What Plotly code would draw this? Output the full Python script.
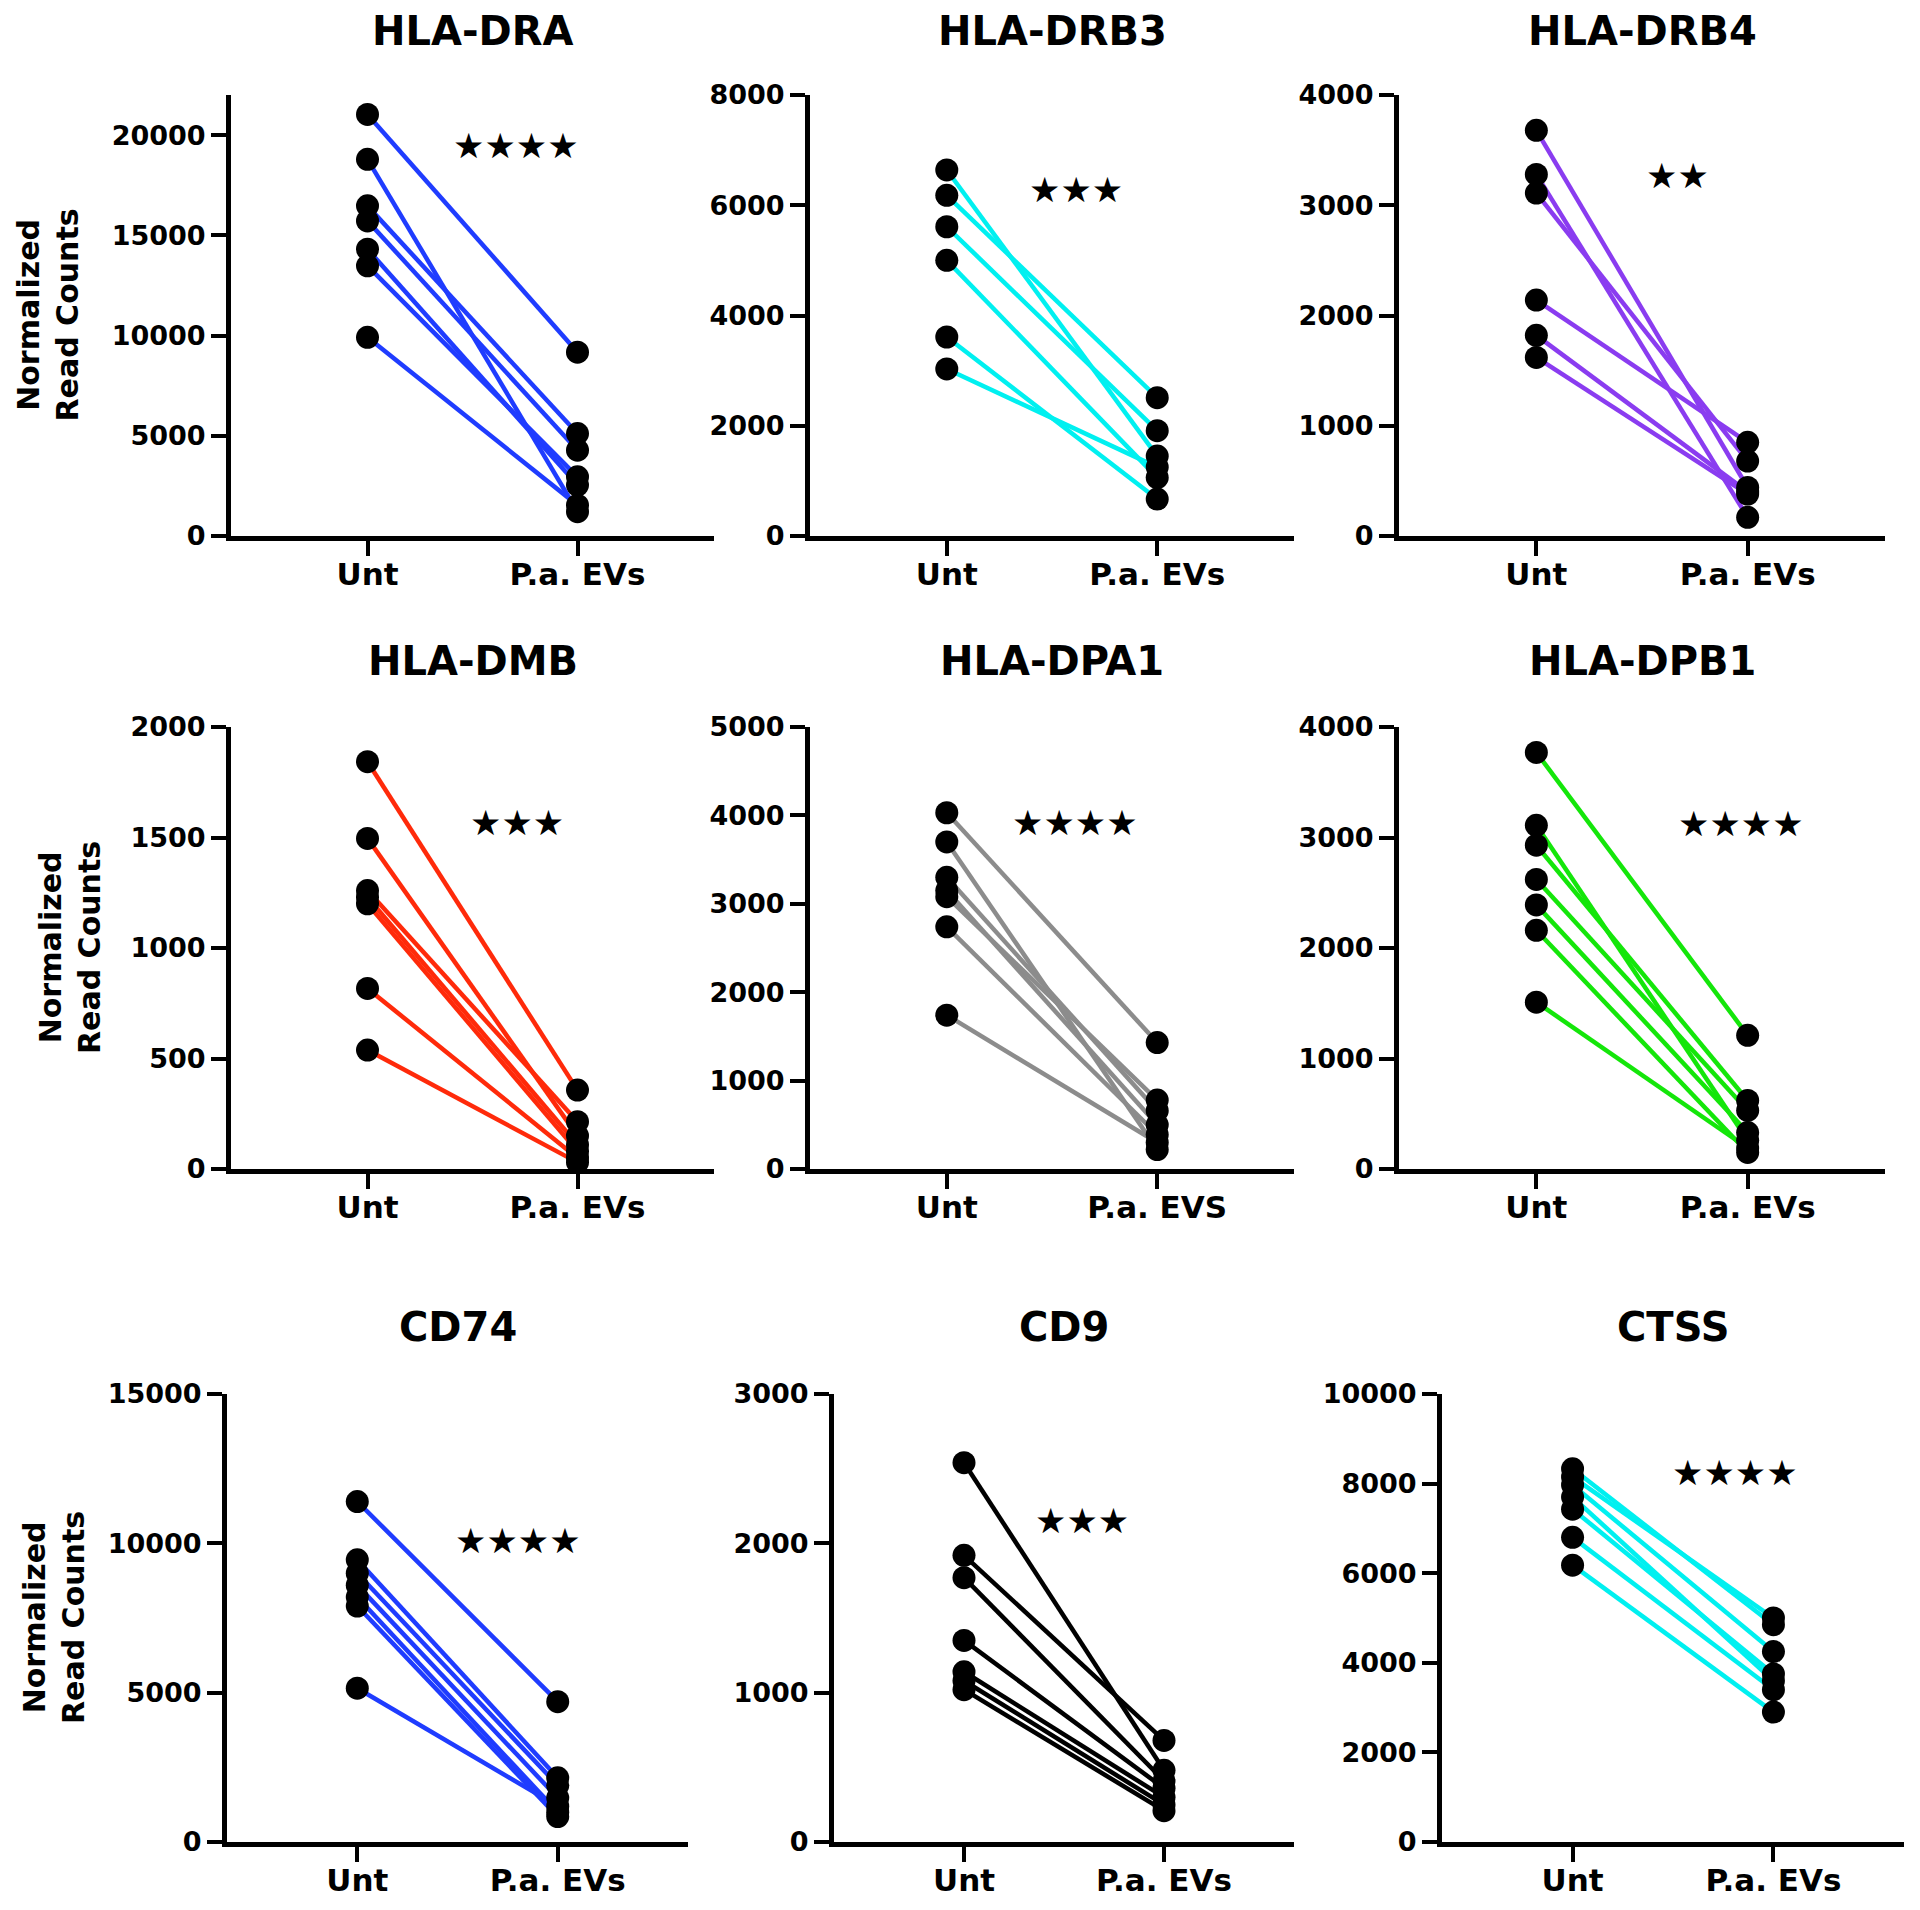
import plotly.graph_objects as go

# panels, read left to right, top to bottom
genes = ["HLA-DRA", "HLA-DRB3", "HLA-DRB4", "HLA-DMB", "HLA-DPA1", "HLA-DPB1", "CD74", "CD9", "CTSS"]
unt_label = "Unt"
evs_labels = ["P.a. EVs", "P.a. EVs", "P.a. EVs", "P.a. EVs", "P.a. EVS", "P.a. EVs", "P.a. EVs", "P.a. EVs", "P.a. EVs"]

# normalized read counts, paired donors: untreated -> P.a. EV treated
dra_unt = [21030, 18790, 16470, 15720, 14310, 13480, 9910]
dra_evs = [9170, 1210, 5110, 4280, 2540, 2950, 1540]

drb3_unt = [6640, 6180, 5610, 5000, 3610, 3030]
drb3_evs = [1450, 2510, 1910, 1060, 670, 1250]

drb4_unt = [3680, 3280, 3110, 2140, 1820, 1620]
drb4_evs = [440, 170, 680, 850, 400, 380]

dmb_unt = [1843, 1496, 1260, 1230, 1200, 817, 538]
dmb_evs = [357, 150, 214, 110, 80, 50, 30]

dpa1_unt = [4030, 3700, 3300, 3150, 3080, 2740, 1740]
dpa1_evs = [1430, 220, 660, 500, 780, 390, 300]

dpb1_unt = [3770, 3110, 2930, 2620, 2390, 2160, 1510]
dpb1_evs = [1210, 260, 620, 530, 330, 150, 190]

cd74_unt = [11400, 9450, 9000, 8600, 8200, 7900, 5150]
cd74_evs = [4700, 2150, 1900, 1480, 1000, 850, 1200]

cd9_unt = [2540, 1920, 1770, 1350, 1140, 1080, 1020]
cd9_evs = [480, 680, 410, 360, 300, 250, 210]

ctss_unt = [8330, 8150, 7970, 7700, 7430, 6800, 6180]
ctss_evs = [4850, 5000, 4250, 3600, 3750, 3400, 2900]

# significance marks
sig_stars = [4, 3, 2, 3, 4, 4, 4, 3, 4]
sig_x = [0.705, 0.615, 0.67, 0.71, 0.61, 0.97, 0.80, 0.59, 0.81]
sig_y = [19450, 6270, 3265, 1566, 3912, 3124, 10077, 2151, 8237]

# y axis top and step
y_max = [22000, 8000, 4000, 2000, 5000, 4000, 15000, 3000, 10000]
y_step = [5000, 2000, 1000, 500, 1000, 1000, 5000, 1000, 2000]

unt_values = [dra_unt, drb3_unt, drb4_unt, dmb_unt, dpa1_unt, dpb1_unt, cd74_unt, cd9_unt, ctss_unt]
evs_values = [dra_evs, drb3_evs, drb4_evs, dmb_evs, dpa1_evs, dpb1_evs, cd74_evs, cd9_evs, ctss_evs]

colors = ["#1f3cff", "#00f0f0", "#8a3cf0", "#ff2a0a", "#8c8c8c", "#14e60a", "#1f3cff", "#000000", "#00f0f0"]

W, H = 1920, 1910
FONT = "DejaVu Sans"
SHIFT = 8  # page body margin

# panel placement in pixels (page coordinates)
x_doms = [(231, 714), (810, 1294), (1399, 1885),
          (231, 714), (810, 1294), (1399, 1885),
          (227, 688), (834, 1294), (1442, 1904)]
y_doms = [(95, 536)] * 3 + [(727, 1169)] * 3 + [(1394, 1842)] * 3
title_y = [31] * 3 + [661] * 3 + [1327] * 3
ytitle_x = [48, 70, 54]


def px(v):
    return (v - SHIFT) / W


def py(v):
    return 1 - (v - SHIFT) / H


fig = go.Figure()
layout = dict(
    template="none",
    width=W, height=H,
    margin=dict(l=0, r=0, t=0, b=0, pad=0, autoexpand=False),
    paper_bgcolor="white", plot_bgcolor="white",
    font=dict(family=FONT, color="black", weight=700),
    showlegend=False,
)
annotations = []

for i, gene in enumerate(genes):
    n = i + 1
    xr = "x" if n == 1 else f"x{n}"
    yr = "y" if n == 1 else f"y{n}"
    unt = unt_values[i]
    evs = evs_values[i]

    for u, e in zip(unt, evs):
        fig.add_trace(go.Scatter(
            x=[0, 1], y=[u, e], mode="lines",
            line=dict(color=colors[i], width=4.5),
            xaxis=xr, yaxis=yr, hoverinfo="skip", cliponaxis=False,
        ))
    fig.add_trace(go.Scatter(
        x=[0] * len(unt) + [1] * len(evs), y=unt + evs, mode="markers",
        marker=dict(color="black", size=23, line=dict(width=0)),
        xaxis=xr, yaxis=yr, cliponaxis=False,
    ))

    x0, x1 = x_doms[i]
    y0, y1 = y_doms[i]
    axis_common = dict(
        showline=True, linecolor="black", linewidth=5,
        ticks="outside", ticklen=15, tickwidth=4, tickcolor="black",
        showgrid=False, zeroline=False, fixedrange=True, automargin=False,
    )
    layout["xaxis" if n == 1 else f"xaxis{n}"] = dict(
        domain=[px(x0), px(x1)], anchor=yr,
        range=[-0.65, 1.65], tickvals=[0, 1], ticktext=[unt_label, evs_labels[i]],
        tickfont=dict(family=FONT, size=31, color="black", weight=700),
        ticklabelstandoff=-8,
        **axis_common,
    )
    layout["yaxis" if n == 1 else f"yaxis{n}"] = dict(
        domain=[py(y1), py(y0)], anchor=xr,
        range=[0, y_max[i]], dtick=y_step[i], tick0=0, tickformat="d",
        tickfont=dict(family=FONT, size=27, color="black", weight=700),
        **axis_common,
    )

    annotations.append(dict(
        text=gene, xref="paper", yref="paper",
        x=px((x0 + x1) / 2), y=py(title_y[i]),
        xanchor="center", yanchor="middle", showarrow=False,
        font=dict(family=FONT, size=40, color="black", weight=700),
    ))
    annotations.append(dict(
        text="\u2605" * sig_stars[i], xref=xr, yref=yr,
        x=sig_x[i], y=sig_y[i], xanchor="center", yanchor="middle", showarrow=False,
        font=dict(family=FONT, size=35, color="black"),
    ))
    if i % 3 == 0:
        annotations.append(dict(
            text="Normalized<br>Read Counts", xref="paper", yref="paper",
            x=px(ytitle_x[i // 3]), y=py((y0 + y1) / 2),
            xanchor="center", yanchor="middle", showarrow=False, textangle=-90,
            font=dict(family=FONT, size=30, color="black", weight=700),
        ))

layout["annotations"] = annotations
fig.update_layout(**layout)
fig.write_html("out.html")
